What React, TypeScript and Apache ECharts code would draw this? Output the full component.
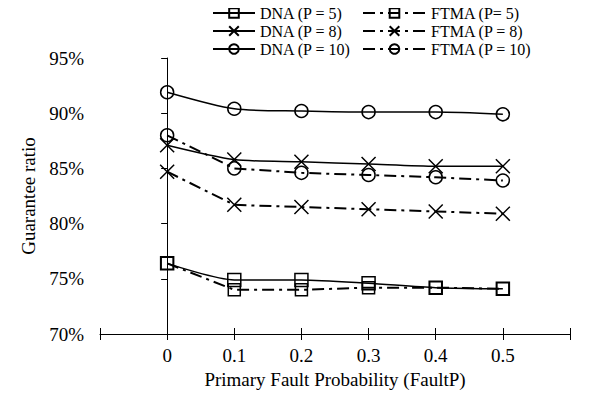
import React, { useEffect, useRef } from "react";
import * as echarts from "echarts";

const faultP = [0, 0.1, 0.2, 0.3, 0.4, 0.5];
const dnaP5 = [76.4, 74.9, 74.9, 74.6, 74.2, 74.1];
const dnaP8 = [87.1, 85.8, 85.6, 85.4, 85.2, 85.2];
const dnaP10 = [91.9, 90.4, 90.2, 90.1, 90.1, 89.9];
const ftmaP5 = [76.4, 74.0, 74.0, 74.2, 74.2, 74.1];
const ftmaP8 = [84.7, 81.7, 81.5, 81.3, 81.1, 80.9];
const ftmaP10 = [88.0, 85.0, 84.6, 84.4, 84.2, 83.9];
const yTicks = { min: 70, max: 95, step: 5 };
const xTicks = { min: -0.1, max: 0.6, step: 0.1 };

const FONT = "Liberation Serif";
const CROSS = "path://M0,0L10,10M10,0L0,10";

function pts(vals: number[]) {
  return faultP.map((x, i) => [x, vals[i]]);
}

export default function App() {
  const ref = useRef<HTMLDivElement>(null);
  useEffect(() => {
    const chart = echarts.init(ref.current!, undefined, { renderer: "svg" });
    const mk = (name: string, vals: number[], symbol: string, size: number, dashed: boolean) => ({
      name,
      type: "line",
      data: pts(vals),
      symbol,
      symbolSize: size,
      smooth: dashed ? false : 0.25,
      lineStyle: dashed
        ? { color: "#000", width: 2, type: [12, 5, 3, 5] }
        : { color: "#000", width: 1.5 },
      itemStyle: { color: "transparent", borderColor: "#000", borderWidth: 1.5 },
      emphasis: { disabled: true },
    });
    const legendText = { fontFamily: FONT, fontSize: 16, lineHeight: 15, color: "#000" };
    chart.setOption({
      animation: false,
      backgroundColor: "#fff",
      textStyle: { fontFamily: FONT, color: "#000" },
      legend: [
        {
          orient: "vertical",
          left: 207,
          top: 0,
          itemWidth: 42,
          itemHeight: 12,
          itemGap: 2,
          textStyle: legendText,
          data: ["DNA (P = 5)", "DNA (P = 8)", "DNA (P = 10)"],
        },
        {
          orient: "vertical",
          left: 357,
          top: 0,
          itemWidth: 63,
          itemHeight: 12,
          itemGap: 2,
          textStyle: legendText,
          data: ["FTMA (P= 5)", "FTMA (P = 8)", "FTMA (P = 10)"],
        },
      ],
      grid: { left: 100, right: 21, top: 58, bottom: 66 },
      xAxis: [
        {
          type: "value",
          min: xTicks.min,
          max: xTicks.max,
          interval: xTicks.step,
          name: "Primary Fault Probability (FaultP)",
          nameLocation: "middle",
          nameGap: 36,
          nameTextStyle: { fontFamily: FONT, fontSize: 19, color: "#000" },
          axisLine: { lineStyle: { color: "#000", width: 1 } },
          axisTick: { show: true, length: 6, lineStyle: { color: "#000" } },
          axisLabel: {
            fontFamily: FONT,
            fontSize: 19,
            color: "#000",
            margin: 12,
            formatter: (v: number) =>
              v < -0.05 || v > 0.55 ? "" : String(Math.round(v * 10) / 10),
          },
          splitLine: { show: false },
        },
        {
          type: "value",
          position: "bottom",
          min: xTicks.min,
          max: xTicks.max,
          interval: xTicks.step,
          axisLine: { show: false },
          axisTick: { show: true, inside: true, length: 6, lineStyle: { color: "#000" } },
          axisLabel: { show: false },
          splitLine: { show: false },
        },
      ],
      yAxis: {
        type: "value",
        min: yTicks.min,
        max: yTicks.max,
        interval: yTicks.step,
        name: "Guarantee ratio",
        nameLocation: "middle",
        nameGap: 60,
        nameTextStyle: { fontFamily: FONT, fontSize: 19, color: "#000" },
        axisLine: { show: true, lineStyle: { color: "#000", width: 1 } },
        axisTick: { show: true, length: 6, lineStyle: { color: "#000" } },
        axisLabel: {
          fontFamily: FONT,
          fontSize: 19,
          color: "#000",
          margin: 16,
          formatter: "{value}%",
        },
        splitLine: { show: false },
      },
      series: [
        mk("DNA (P = 5)", dnaP5, "rect", 13, false),
        mk("DNA (P = 8)", dnaP8, CROSS, 14, false),
        mk("DNA (P = 10)", dnaP10, "circle", 13, false),
        mk("FTMA (P= 5)", ftmaP5, "rect", 12, true),
        mk("FTMA (P = 8)", ftmaP8, CROSS, 14, true),
        mk("FTMA (P = 10)", ftmaP10, "circle", 13, true),
      ],
    });
    return () => chart.dispose();
  }, []);
  return <div ref={ref} style={{ width: 591, height: 400, margin: -8 }} />;
}
